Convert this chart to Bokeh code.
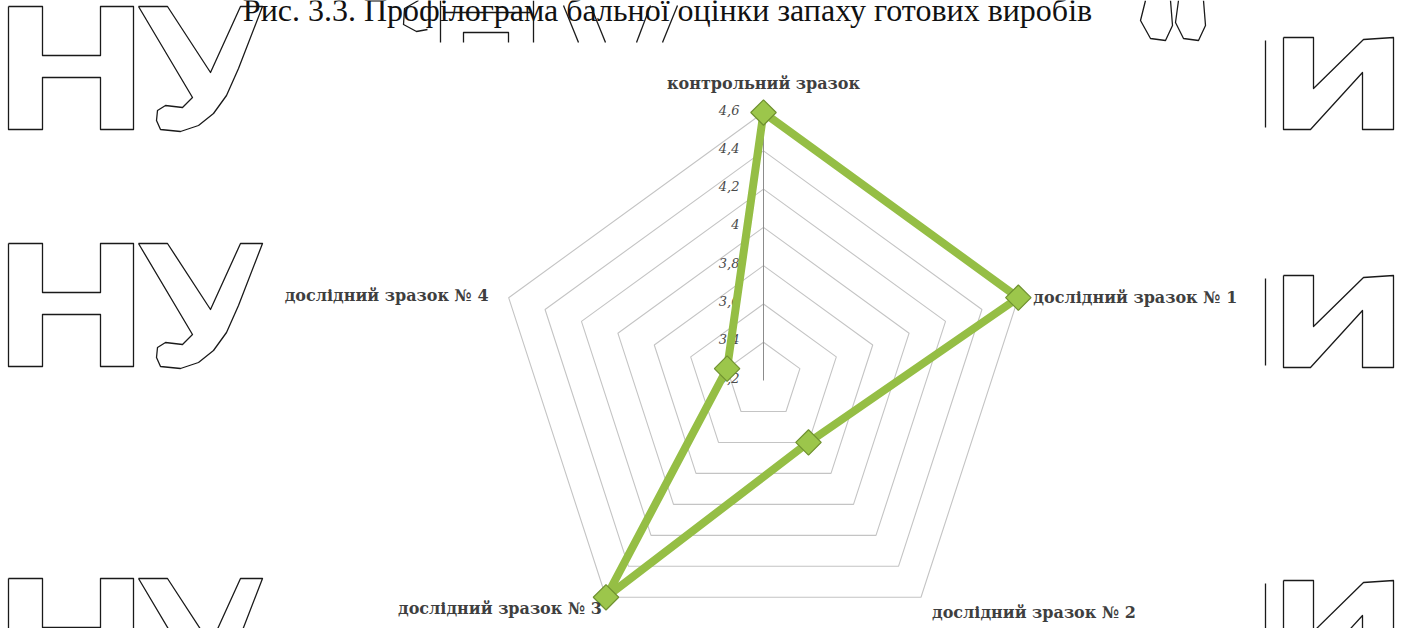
import numpy as np
from bokeh.plotting import figure
from bokeh.models import Range1d
from bokeh.embed import file_html
from bokeh.resources import INLINE
from bokeh.core.properties import value

# ---- data -------------------------------------------------------------
categories = [
    "контрольний зразок",
    "дослідний зразок № 1",
    "дослідний зразок № 2",
    "дослідний зразок № 3",
    "дослідний зразок № 4",
]
scores = [4.6, 4.6, 3.6, 4.6, 3.4]
tick_values = [3.2, 3.4, 3.6, 3.8, 4.0, 4.2, 4.4, 4.6]
tick_labels = ["3,2", "3,4", "3,6", "3,8", "4", "4,2", "4,4", "4,6"]
title = "Рис. 3.3. Профілограма бальної оцінки запаху готових виробів"

# ---- page geometry ----------------------------------------------------
W, H = 1410, 628
CX, CY = 763, 380          # radar centre on the page (pixels from top-left)
PX = 191.4                 # pixels per scale point
V0 = tick_values[0]        # value at the centre

GREEN = "#95BE45"
GREEN_DARK = "#6F9130"
GRID = "#C4C4C4"
TEXT = "#3F3F3F"


def to_data(px, py):
    return (px - CX) / PX, (CY - py) / PX


p = figure(
    width=W, height=H,
    x_range=Range1d(-CX / PX, (W - CX) / PX),
    y_range=Range1d((CY - H) / PX, CY / PX),
    x_axis_type=None, y_axis_type=None,
    toolbar_location=None, output_backend="svg",
    min_border=0, outline_line_color=None,
    background_fill_color="white", border_fill_color="white",
)
p.grid.visible = False

# ---- background lettering (outlined) -----------------------------------
H_SHAPE = [(0, 0), (34, 0), (34, 49), (92, 49), (92, 0), (125, 0), (125, 123),
           (92, 123), (92, 71), (34, 71), (34, 123), (0, 123), (0, 0)]
U_SHAPE = [(0, 0), (29, 0), (72, 66), (102, 0), (124, 0), (100, 62), (88, 89),
           (75, 107), (60, 119), (42, 125), (22, 123), (18, 114), (19, 104),
           (27, 99), (44, 101), (54, 91), (0, 0)]
I_SHAPE = [(0, 0), (30, 0), (30, 51), (80, 2), (110, 0), (110, 92), (79, 92),
           (79, 35), (27, 92), (0, 92), (0, 0)]

outlines = []
for dy in (6, 243, 578):
    outlines.append([(8 + x, dy + y) for x, y in H_SHAPE])
    outlines.append([(138 + x, dy + y) for x, y in U_SHAPE])
for dy in (37, 275, 580):
    outlines.append([(1283 + x, dy + y) for x, y in I_SHAPE])
    outlines.append([(1265, dy + 3), (1265, dy + 90)])
# lower edges of the lettering row above the caption
outlines += [
    [(440, 0), (440, 42)], [(533, 0), (533, 42)], [(443, 12), (530, 12)],
    [(463, 42), (463, 32), (508, 32), (508, 42)],
    [(563, 5), (578, 42)], [(590, 5), (605, 42)],
    [(650, 5), (636, 42)], [(677, 5), (662, 42)],
    [(418, 0), (404, 8), (403, 24), (416, 31), (427, 29)],
    [(1145, 0), (1140, 20), (1150, 38), (1165, 40), (1172, 25), (1170, 0)],
    [(1178, 0), (1175, 22), (1183, 38), (1198, 40), (1205, 25), (1203, 0)],
]
wx, wy = [], []
for line in outlines:
    pts = [to_data(a, b) for a, b in line]
    wx.append([q[0] for q in pts])
    wy.append([q[1] for q in pts])
p.multi_line(wx, wy, line_color="#1A1A1A", line_width=1.3, line_join="round")

# ---- caption (runs off the top edge) ----------------------------------
tx, ty = to_data(667, 9)
p.text([tx], [ty], text=[title], text_font=value("Liberation Serif"),
       text_font_size="32px", text_color="#111111",
       text_align="center", text_baseline="alphabetic")

# ---- radar grid -------------------------------------------------------
n = len(categories)
ang = np.deg2rad(90 - 72 * np.arange(n))
cosA, sinA = np.cos(ang), np.sin(ang)

ring_xs, ring_ys = [], []
for v in tick_values[1:]:
    r = v - V0
    ring_xs.append(list(r * cosA) + [r * cosA[0]])
    ring_ys.append(list(r * sinA) + [r * sinA[0]])
p.multi_line(ring_xs, ring_ys, line_color=GRID, line_width=1.1)

# value axis
r_max = tick_values[-1] - V0
p.line([0, 0], [0, r_max], line_color="#8C8C8C", line_width=1)

# value tick labels
p.text([-24 / PX] * len(tick_values),
       [v - V0 + 3 / PX for v in tick_values],
       text=tick_labels, text_font=value("DejaVu Serif"),
       text_font_style="italic", text_font_size="13px", text_color="#4A4A4A",
       text_align="right", text_baseline="middle")

# ---- series -----------------------------------------------------------
rs = np.array(scores) - V0
sx = rs * cosA
sy = rs * sinA
p.line(list(sx) + [sx[0]], list(sy) + [sy[0]], line_color=GREEN,
       line_width=8, line_join="round")
p.scatter(sx, sy, marker="square", angle=np.pi / 4, size=18,
          fill_color="#9CC64B", line_color=GREEN_DARK, line_width=1.2)

# ---- category labels --------------------------------------------------
offsets = [(0, -29, "center"), (15, 0, "left"), (11, 15, "left"),
           (-4, 11, "right"), (-20, -2, "right")]
for i, cat in enumerate(categories):
    ox, oy, al = offsets[i]
    lx = r_max * cosA[i] + ox / PX
    ly = r_max * sinA[i] - oy / PX
    p.text([lx], [ly], text=[cat], text_font=value("DejaVu Serif"),
           text_font_size="16px", text_font_style="bold", text_color=TEXT,
           text_align=al, text_baseline="middle")

open("out.html", "w").write(file_html(p, INLINE))
